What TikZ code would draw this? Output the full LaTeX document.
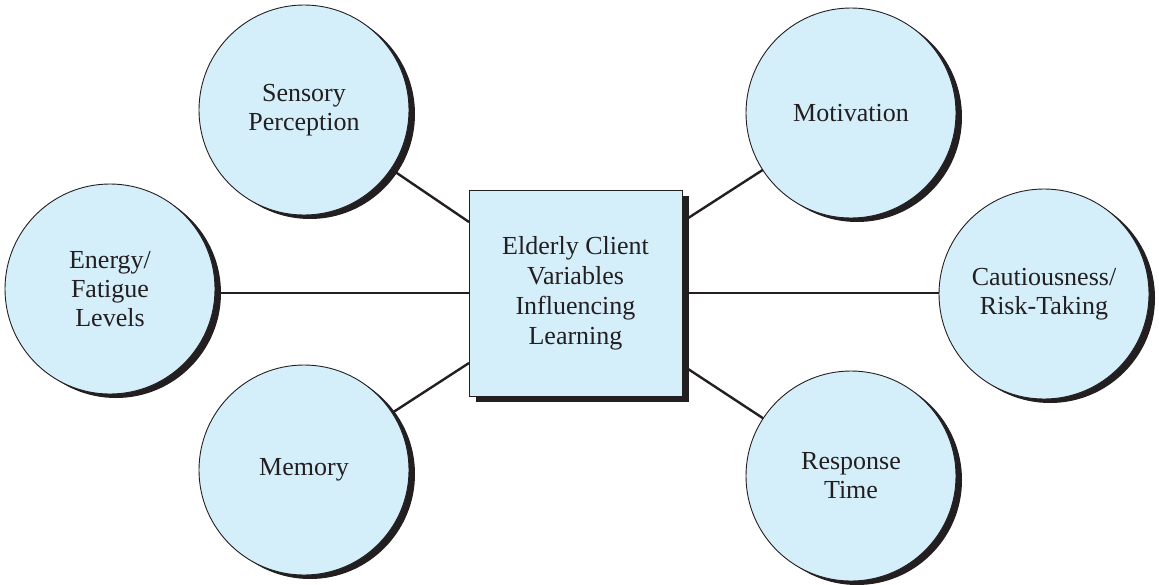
\documentclass[tikz,border=0pt]{standalone}
\usepackage{fontspec}
\setmainfont{Liberation Serif}
\usetikzlibrary{shadows,backgrounds}
\definecolor{fillblue}{HTML}{D4EEFA}
\definecolor{shadowc}{HTML}{231F20}
\tikzset{
  bubble/.style={circle, draw=shadowc, line width=0.9pt, fill=fillblue,
    minimum size=210pt, inner sep=0pt, align=center, font=\fontsize{26}{29}\selectfont, text=shadowc,
    drop shadow={shadow xshift=6pt, shadow yshift=-4pt, opacity=1, fill=shadowc}},
  centerbox/.style={rectangle, draw=shadowc, line width=0.9pt, fill=fillblue,
    minimum width=213pt, minimum height=206pt, inner sep=0pt, align=center, font=\fontsize{26}{30}\selectfont, text=shadowc,
    drop shadow={shadow xshift=7pt, shadow yshift=-6pt, opacity=1, fill=shadowc}},
  link/.style={draw=shadowc, line width=2.4pt}
}
\begin{document}
\begin{tikzpicture}[x=1pt,y=-1pt]
\useasboundingbox (0,0) rectangle (1159,584);
\node[centerbox] (c) at (575.5,293) {Elderly Client\\Variables\\Influencing\\Learning};
\node[bubble] (sp) at (304,110) {\raisebox{5pt}{\begin{tabular}{@{}c@{}}Sensory\\Perception\end{tabular}}};
\node[bubble] (ef) at (110,289) {Energy/\\Fatigue\\Levels};
\node[bubble] (me) at (304,470) {Memory};
\node[bubble] (mo) at (851,113) {Motivation};
\node[bubble] (ca) at (1044,294) {Cautiousness/\\Risk-Taking};
\node[bubble] (rt) at (851,476) {Response\\Time};
\coordinate (cul) at (469,222);
\coordinate (cll) at (469,363);
\coordinate (cur) at (682,222);
\coordinate (clr) at (682,365);
\coordinate (cml) at (469,293);
\coordinate (cmr) at (682,293);
\begin{scope}[on background layer]
\draw[link] (sp.center) -- (cul);
\draw[link] (me.center) -- (cll);
\draw[link] (mo.center) -- (cur);
\draw[link] (rt.center) -- (clr);
\draw[link] (ef.center |- cml) -- (cml);
\draw[link] (ca.center |- cmr) -- (cmr);
\end{scope}
\end{tikzpicture}
\end{document}
